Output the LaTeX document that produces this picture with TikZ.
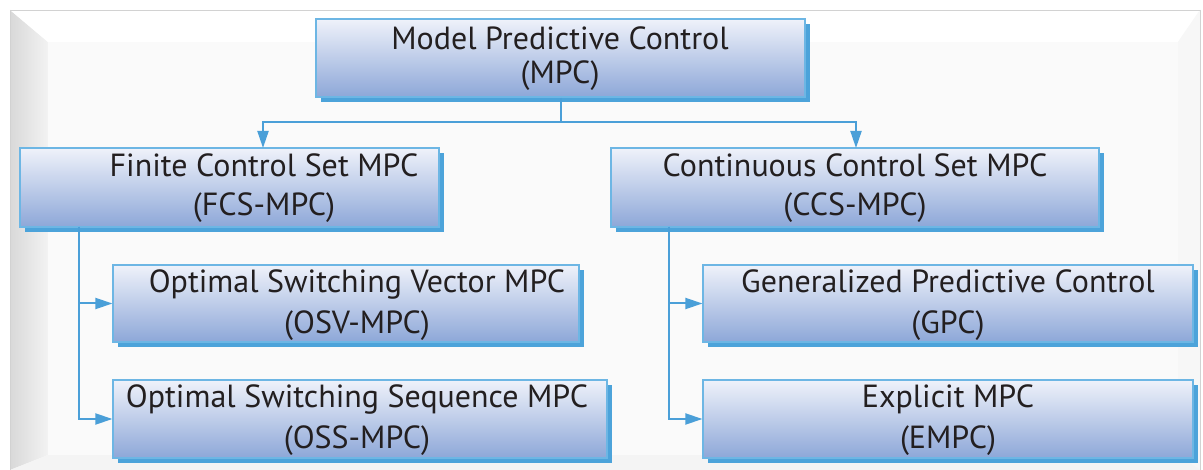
\documentclass[tikz,border=0pt]{standalone}
\usepackage{fontspec}
\setmainfont{PT Sans}
\usetikzlibrary{arrows.meta,shadows,calc}
\definecolor{boxtop}{HTML}{EFF2FA}
\definecolor{boxbot}{HTML}{8DA7D8}
\definecolor{boxline}{HTML}{6DB6E4}
\definecolor{shadowblue}{HTML}{4CA3DA}
\definecolor{arrowblue}{HTML}{4A9FD8}
\definecolor{txtcol}{HTML}{231F20}
\tikzset{
  box/.style={rectangle, draw=boxline, line width=1.2pt, inner sep=0pt,
    top color=boxtop, bottom color=boxbot,
    drop shadow={shadow xshift=5pt, shadow yshift=-5pt, fill=shadowblue, opacity=1}},
  txt/.style={anchor=base, inner sep=0pt, text=txtcol, font=\fontsize{32}{38}\selectfont},
  conn/.style={draw=arrowblue, line width=2pt, -{Triangle[length=17pt,width=11pt]}},
  plain/.style={draw=arrowblue, line width=2pt}
}
\begin{document}
\begin{tikzpicture}[x=1pt,y=-1pt]
\useasboundingbox (0,0) rectangle (1203,470);
% background frame
\fill[white] (0,0) rectangle (1203,470);
\fill[gray!4] (10,10) rectangle (1200,470);
\shade[left color=gray!30, right color=gray!10] (10,10) -- (48,42) -- (48,455) -- (10,470) -- cycle;
\fill[white] (10,10) -- (1200,10) -- (1178,42) -- (48,42) -- cycle;
\fill[gray!6] (1200,10) -- (1200,470) -- (1178,455) -- (1178,42) -- cycle;
\fill[gray!9] (10,470) -- (48,455) -- (1178,455) -- (1200,470) -- cycle;
\fill[gray!4] (48,42) rectangle (1178,455);
\draw[gray!35, line width=0.8pt] (10,470) -- (10,10) -- (1200,10) -- (1200,470);

% boxes
\node[box, minimum width=489pt, minimum height=78pt] (mpc) at (560.5,58) {};
\node[box, minimum width=419pt, minimum height=79pt] (fcs) at (229.5,187.5) {};
\node[box, minimum width=488pt, minimum height=79pt] (ccs) at (855,187.5) {};
\node[box, minimum width=466pt, minimum height=77pt] (osv) at (346,303.5) {};
\node[box, minimum width=494pt, minimum height=78pt] (oss) at (360,419) {};
\node[box, minimum width=490pt, minimum height=77pt] (gpc) at (948,303.5) {};
\node[box, minimum width=490pt, minimum height=78pt] (empc) at (948,419) {};

% texts
\node[txt] (mpc1) at (560,50) {Model Predictive Control};
\node[txt] (mpc2) at (560,84) {(MPC)};
\node[txt] (fcs1) at (264,177) {Finite Control Set MPC};
\node[txt] (fcs2) at (264,216) {(FCS-MPC)};
\node[txt] (ccs1) at (855,177) {Continuous Control Set MPC};
\node[txt] (ccs2) at (855,216) {(CCS-MPC)};
\node[txt] (osv1) at (357,293) {Optimal Switching Vector MPC};
\node[txt] (osv2) at (357,334) {(OSV-MPC)};
\node[txt] (oss1) at (357,408) {Optimal Switching Sequence MPC};
\node[txt] (oss2) at (357,449) {(OSS-MPC)};
\node[txt] (gpc1) at (948,293) {Generalized Predictive Control};
\node[txt] (gpc2) at (948,334) {(GPC)};
\node[txt] (empc1) at (948,408) {Explicit MPC};
\node[txt] (empc2) at (948,449) {(EMPC)};

% connectors
\coordinate (j) at (560.5,122);
\coordinate (fcsin) at (263,148);
\coordinate (ccsin) at (856,148);
\draw[plain] (mpc.south) -- (j);
\draw[conn] (j) -| (fcsin);
\draw[conn] (j) -| (ccsin);
\coordinate (fcsv) at (79,227);
\coordinate (ccsv) at (669,227);
\draw[conn] (fcsv) |- (osv.west);
\draw[conn] (fcsv) |- (oss.west);
\draw[conn] (ccsv) |- (gpc.west);
\draw[conn] (ccsv) |- (empc.west);
\end{tikzpicture}
\end{document}
